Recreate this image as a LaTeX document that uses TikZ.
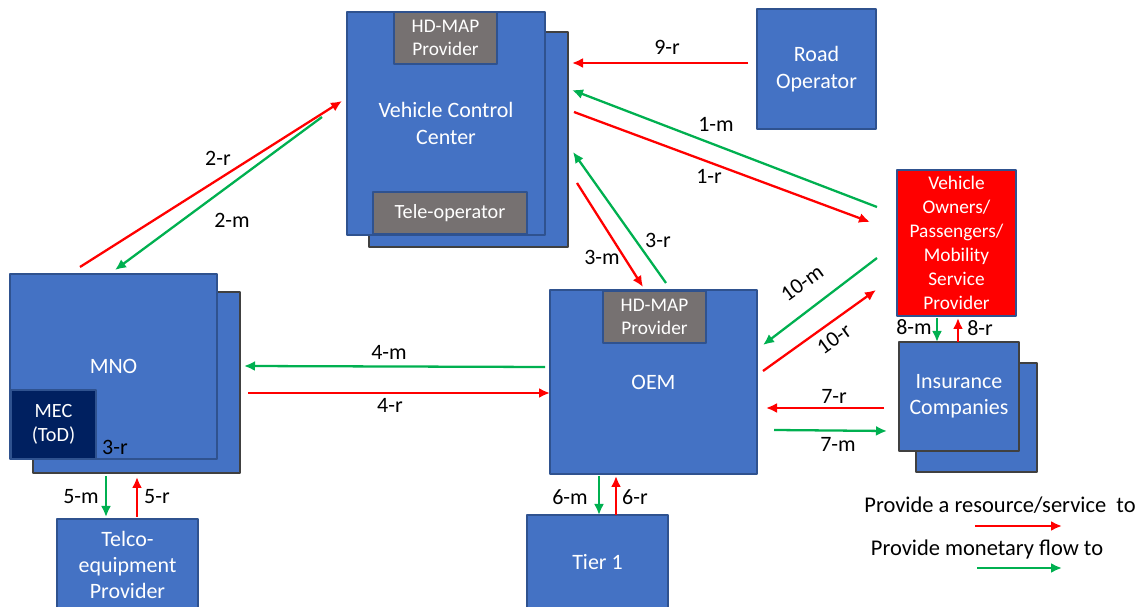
\documentclass[tikz,border=0pt]{standalone}
\usepackage{fontspec}
\setmainfont{Carlito}
\usetikzlibrary{arrows.meta}
\definecolor{BoxBlue}{HTML}{4472C4}
\definecolor{BoxEdge}{HTML}{2F528F}
\definecolor{MapGray}{HTML}{767171}
\definecolor{MecNavy}{HTML}{002060}
\definecolor{FlowRed}{HTML}{FF0000}
\definecolor{FlowGreen}{HTML}{00B050}

\begin{document}
\begin{tikzpicture}[x=0.02cm,y=-0.02cm,line join=round,
  box/.style={fill=BoxBlue,draw=BoxEdge,line width=.6pt,text=white,align=center,inner sep=0pt,font=\fontsize{12.5}{15}\selectfont},
  backbox/.style={fill=BoxBlue,draw=black!75,line width=.8pt,inner sep=0pt},
  subbox/.style={fill=MapGray,draw=BoxEdge,line width=.6pt,text=white,align=center,inner sep=0pt,font=\fontsize{11}{13.5}\selectfont},
  rflow/.style={FlowRed,line width=1.3pt,-{Latex[length=2.2mm,width=2mm]}},
  mflow/.style={FlowGreen,line width=1.3pt,-{Latex[length=2.2mm,width=2mm]}},
  lbl/.style={inner sep=1pt,font=\fontsize{12.5}{14}\selectfont}]
  \useasboundingbox (0,0) rectangle (1140,607);
  \node[backbox,minimum width=3.98cm,minimum height=4.3cm] (vccback) at (468.5,139.5) {};
  \node[box,minimum width=3.96cm,minimum height=4.46cm] (vcc) at (446,123.5) {Vehicle Control\\Center};
  \node[subbox,minimum width=2.06cm,minimum height=1.04cm] (vccmap) at (445.5,38) {HD-MAP\\Provider};
  \node[subbox,minimum width=3.08cm,minimum height=.84cm,font=\fontsize{11.5}{13.5}\selectfont] (teleop) at (450,213) {Tele-operator};
  \node[box,minimum width=2.38cm,minimum height=2.4cm] (road) at (816.5,69) {Road\\Operator};
  \node[backbox,minimum width=4.14cm,minimum height=3.62cm] (mnoback) at (136.5,382.5) {};
  \node[box,minimum width=4.14cm,minimum height=3.7cm] (mno) at (113.5,366.5) {MNO};
  \node[box,fill=MecNavy,minimum width=1.7cm,minimum height=1.38cm,font=\fontsize{11.5}{14}\selectfont] (mec) at (53.5,424.5) {MEC\\(ToD)};
  \node[lbl] (l3rb) at (115,447) {3-r};
  \node[box,minimum width=4.14cm,minimum height=3.68cm] (oem) at (653.5,382) {OEM};
  \node[subbox,minimum width=2.06cm,minimum height=1.04cm] (oemmap) at (654.5,317) {HD-MAP\\Provider};
  \node[box,fill=FlowRed,minimum width=2.38cm,minimum height=2.92cm,font=\fontsize{11}{13.6}\selectfont] (owners) at (956.5,243) {Vehicle\\Owners/\\Passengers/\\Mobility\\Service\\Provider};
  \node[backbox,minimum width=2.42cm,minimum height=2.18cm] (insback) at (976.5,417.5) {};
  \node[box,draw=black!75,line width=.8pt,minimum width=2.4cm,minimum height=2.18cm] (ins) at (959,396.5) {Insurance\\Companies};
  \node[box,minimum width=2.82cm,minimum height=1.84cm,font=\fontsize{12.5}{14.8}\selectfont] (telco) at (127.5,565) {Telco-\\equipment\\Provider};
  \node[box,minimum width=2.82cm,minimum height=1.88cm] (tier) at (597.5,562) {Tier 1};

  \coordinate (r9a) at (748,63); \coordinate (r9b) at (572,63);
  \coordinate (m1a) at (877,207); \coordinate (m1b) at (572,90); \coordinate (r1a) at (574,112); \coordinate (r1b) at (870,222);
  \coordinate (r2a) at (80,267); \coordinate (r2b) at (342,101); \coordinate (m2a) at (322,117); \coordinate (m2b) at (115,270);
  \coordinate (r3a) at (577,183); \coordinate (r3b) at (643,287); \coordinate (m3a) at (666,283); \coordinate (m3b) at (573,152);
  \coordinate (m10a) at (877,258); \coordinate (m10b) at (763,345); \coordinate (r10a) at (763,371); \coordinate (r10b) at (876,290);
  \coordinate (m4a) at (545,367); \coordinate (m4b) at (244,366); \coordinate (r4a) at (248,393); \coordinate (r4b) at (550,393);
  \coordinate (r7a) at (884,408); \coordinate (r7b) at (766,408); \coordinate (m7a) at (774,430); \coordinate (m7b) at (887,431);
  \coordinate (m8a) at (937,318); \coordinate (m8b) at (937,342); \coordinate (r8a) at (958,342); \coordinate (r8b) at (958,318);
  \coordinate (m5a) at (106,476); \coordinate (m5b) at (106,517); \coordinate (r5a) at (137,517); \coordinate (r5b) at (137,477);
  \coordinate (m6a) at (599,476); \coordinate (m6b) at (599,515); \coordinate (r6a) at (616,515); \coordinate (r6b) at (616,476);
  \coordinate (keyra) at (975,526); \coordinate (keyrb) at (1062,526); \coordinate (keyma) at (977,568); \coordinate (keymb) at (1062,568);

  \draw[rflow] (r9a) -- (r9b); \draw[mflow] (m1a) -- (m1b); \draw[rflow] (r1a) -- (r1b);
  \draw[rflow] (r2a) -- (r2b); \draw[mflow] (m2a) -- (m2b); \draw[rflow] (r3a) -- (r3b); \draw[mflow] (m3a) -- (m3b);
  \draw[mflow] (m10a) -- (m10b); \draw[rflow] (r10a) -- (r10b); \draw[mflow] (m4a) -- (m4b); \draw[rflow] (r4a) -- (r4b);
  \draw[rflow] (r7a) -- (r7b); \draw[mflow] (m7a) -- (m7b); \draw[mflow] (m8a) -- (m8b); \draw[rflow] (r8a) -- (r8b);
  \draw[mflow] (m5a) -- (m5b); \draw[rflow] (r5a) -- (r5b); \draw[mflow] (m6a) -- (m6b); \draw[rflow] (r6a) -- (r6b);
  \draw[rflow] (keyra) -- (keyrb); \draw[mflow] (keyma) -- (keymb);

  \node[lbl] (l9r) at (667,47) {9-r}; \node[lbl] (l1m) at (716,124) {1-m}; \node[lbl] (l1r) at (709,176) {1-r};
  \node[lbl] (l2r) at (218,158) {2-r}; \node[lbl] (l2m) at (232,220) {2-m}; \node[lbl] (l3m) at (602,257) {3-m}; \node[lbl] (l3r) at (658,240) {3-r};
  \node[lbl,rotate=36] (l10m) at (802,283) {10-m}; \node[lbl,rotate=36] (l10r) at (834,339) {10-r};
  \node[lbl] (l4m) at (389,352) {4-m}; \node[lbl] (l4r) at (390,405) {4-r}; \node[lbl] (l7r) at (834,396) {7-r}; \node[lbl] (l7m) at (838,444) {7-m};
  \node[lbl] (l8m) at (914,327) {8-m}; \node[lbl] (l8r) at (980,328) {8-r};
  \node[lbl] (l5m) at (81,497) {5-m}; \node[lbl] (l5r) at (157,497) {5-r}; \node[lbl] (l6m) at (570,497) {6-m}; \node[lbl] (l6r) at (635,497) {6-r};
  \node[lbl,font=\fontsize{12.8}{14}\selectfont] (keyr) at (1000,505) {Provide a resource/service~ to};
  \node[lbl,font=\fontsize{12.8}{14}\selectfont] (keym) at (987,550) {Provide monetary flow to};
\end{tikzpicture}
\end{document}
